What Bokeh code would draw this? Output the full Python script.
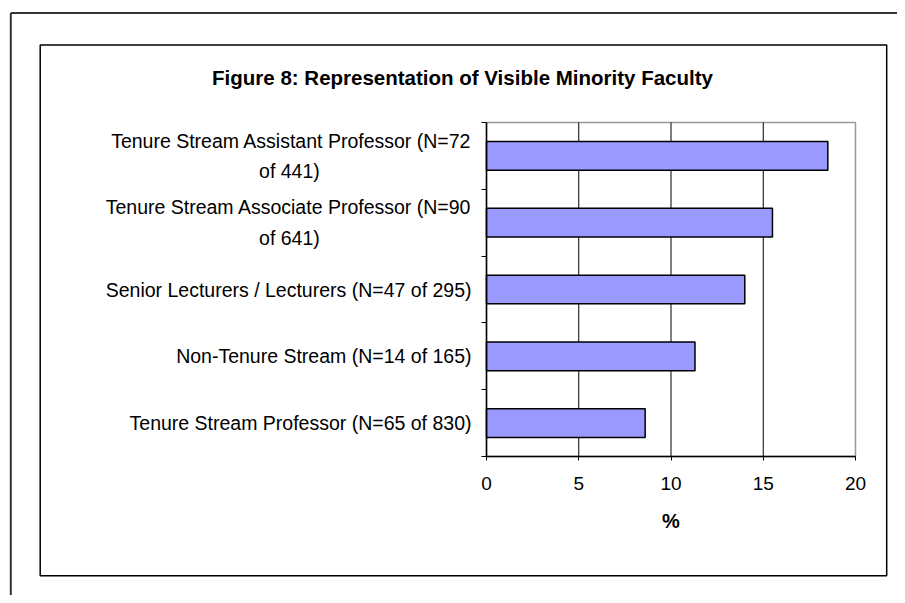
from bokeh.plotting import figure
from bokeh.models import FixedTicker, BoxAnnotation, Label, Range1d
from bokeh.embed import file_html
from bokeh.resources import INLINE

# ---- data (top to bottom as shown) ----
categories = [
    "Tenure Stream Assistant Professor (N=72\nof 441)",
    "Tenure Stream Associate Professor (N=90\nof 641)",
    "Senior Lecturers / Lecturers (N=47 of 295)",
    "Non-Tenure Stream (N=14 of 165)",
    "Tenure Stream Professor (N=65 of 830)",
]
values = [18.5, 15.5, 14.0, 11.3, 8.6]
x_ticks = [0, 5, 10, 15, 20]
title_text = "Figure 8: Representation of Visible Minority Faculty"
x_title = "%"

n = len(categories)
ypos = [n - i - 0.5 for i in range(n)]
FONT = "Liberation Sans"

# plot-area geometry (pixels on the canvas)
W, H = 897, 595
FL, FT, FR, FB = 486, 122, 855, 456
XMAX = x_ticks[-1]


def px_x(px):
    return (px - FL) * XMAX / (FR - FL)


def px_y(py):
    return (FB - py) * n / (FB - FT)


def center_lines(label, pad=28):
    parts = label.split("\n")
    if len(parts) == 1:
        return label
    return parts[0] + "\n" + parts[1] + "\u00a0" * pad


p = figure(width=W, height=H, output_backend="svg", toolbar_location=None,
           x_range=Range1d(px_x(0), px_x(W)), y_range=Range1d(px_y(H), px_y(0)),
           min_border_left=0, min_border_right=0,
           min_border_top=0, min_border_bottom=0,
           background_fill_color="white", border_fill_color="white")
p.outline_line_color = None
p.grid.visible = False

# outer frame (only top and left edges are visible)
ox, oy = px_x(10.3), px_y(12.5)
p.segment(x0=[ox, ox], y0=[oy, oy], x1=[px_x(W + 20), ox], y1=[oy, px_y(H + 20)],
          line_color="#333333", line_width=2)

# plot-area border (grey) and vertical gridlines
p.quad(left=0, right=XMAX, bottom=0, top=n, fill_color=None,
       line_color="#999999", line_width=1.5)
grid_x = [t for t in x_ticks if 0 < t < XMAX]
p.segment(x0=grid_x, y0=[0] * len(grid_x), x1=grid_x, y1=[n] * len(grid_x),
          line_color="black", line_width=1)

# bars
p.hbar(y=ypos, left=0, right=values, height=0.43,
       fill_color="#9999FF", line_color="black", line_width=1.5)

# x axis
xa = p.xaxis[0]
xa.fixed_location = 0
xa.bounds = (0, XMAX)
xa.ticker = FixedTicker(ticks=x_ticks)
xa.axis_line_color = "black"
xa.axis_line_width = 1.5
xa.major_tick_in = 0
xa.major_tick_out = 4
xa.major_tick_line_color = "black"
xa.minor_tick_line_color = None
xa.major_label_text_font = FONT
xa.major_label_text_font_size = "19px"
xa.major_label_text_color = "black"
xa.major_label_standoff = 16
xa.axis_label = x_title
xa.axis_label_text_font = FONT
xa.axis_label_text_font_style = "bold"
xa.axis_label_text_font_size = "20px"
xa.axis_label_text_color = "black"
xa.axis_label_standoff = 17

# y axis
ya = p.yaxis[0]
ya.fixed_location = 0
ya.bounds = (0, n)
ya.ticker = FixedTicker(ticks=ypos, minor_ticks=list(range(n + 1)))
ya.major_label_overrides = {y: center_lines(c) for y, c in zip(ypos, categories)}
ya.axis_line_color = "black"
ya.axis_line_width = 1.5
ya.major_tick_line_color = None
ya.major_tick_in = 0
ya.major_tick_out = 0
ya.minor_tick_in = 0
ya.minor_tick_out = 5
ya.minor_tick_line_color = "black"
ya.major_label_text_font = FONT
ya.major_label_text_font_size = "19.5px"
ya.major_label_text_color = "black"
ya.major_label_text_line_height = 1.4
ya.major_label_standoff = 10

# title
p.add_layout(Label(x=px_x(462), y=px_y(77), text=title_text,
                   text_font=FONT, text_font_style="bold", text_font_size="20.5px",
                   text_align="center", text_baseline="alphabetic", text_color="black"))

# chart-area border
p.add_layout(BoxAnnotation(left=px_x(39.7), right=px_x(886.2),
                           top=px_y(44.5), bottom=px_y(575.3),
                           fill_color=None, line_color="black", line_alpha=1.0,
                           line_width=1.5))

open("out.html", "w").write(file_html(p, INLINE))
